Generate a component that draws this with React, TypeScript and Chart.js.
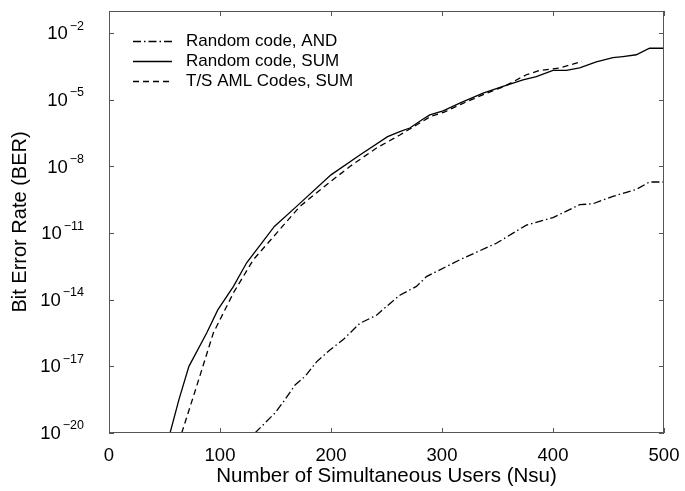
import React, { useEffect, useRef } from 'react';
import { Chart, registerables } from 'chart.js';

Chart.register(...registerables);

// Random code, AND (dash-dot)
const andUsers = [131.5, 149.5, 157, 167.6, 176.6, 187, 199, 211, 226, 241, 250, 262, 277, 286, 316, 349, 376, 400, 424, 436, 454, 475, 487, 500];
const andBer = [1e-20, 7.9e-20, 2.5e-19, 1.45e-18, 3.5e-18, 1.6e-17, 5.5e-17, 1.6e-16, 8.7e-16, 2e-15, 5e-15, 1.6e-14, 4e-14, 1.1e-13, 6.3e-13, 3.5e-12, 2.3e-11, 5e-11, 1.9e-10, 2.1e-10, 4.5e-10, 9.3e-10, 2e-9, 2e-9];

// Random code, SUM (solid)
const sumUsers = [55, 63, 72, 88, 98, 112, 124, 149, 169, 200, 226, 251, 262, 271, 282, 289, 301, 316, 337, 355, 373, 385, 400, 412, 424, 439, 454, 463, 475, 487, 500];
const sumBer = [1e-20, 3.2e-19, 1e-17, 3.2e-16, 3.5e-15, 3.9e-14, 4.6e-13, 2e-11, 1.6e-10, 4.2e-9, 3.3e-8, 2.2e-7, 3.7e-7, 5.4e-7, 1.26e-6, 2.1e-6, 3.2e-6, 7.1e-6, 2e-5, 4e-5, 7.9e-5, 1.1e-4, 2.1e-4, 2.1e-4, 2.75e-4, 5.1e-4, 7.9e-4, 8.9e-4, 1.07e-3, 2.1e-3, 2.1e-3];

// T/S AML Codes, SUM (dashed)
const amlUsers = [65.5, 79, 94, 112, 130, 151, 172, 196, 217, 241, 262, 277, 290, 302, 317, 338, 356, 376, 388, 406, 426];
const amlBer = [1e-20, 1.3e-18, 3.2e-16, 2e-14, 6.3e-13, 1e-11, 1.6e-10, 1.5e-9, 1e-8, 6.8e-8, 2.6e-7, 7.4e-7, 1.8e-6, 2.8e-6, 6.3e-6, 1.8e-5, 4e-5, 1.35e-4, 2.1e-4, 2.7e-4, 5.4e-4];

const seriesLabels = ['Random code, AND', 'Random code, SUM', 'T/S AML Codes, SUM'];
const xTickValues = [0, 100, 200, 300, 400, 500];
const yTickExponents = [-20, -17, -14, -11, -8, -5, -2];
const xTitle = 'Number of Simultaneous Users (Nsu)';
const yTitle = 'Bit Error Rate (BER)';

const FONT = "'Liberation Sans', Arial, Helvetica, sans-serif";
const DASHDOT = [8, 3, 1.5, 3];
const DASHED = [6, 4];

const toPoints = (xs: number[], ys: number[]) => xs.map((x, i) => ({ x, y: ys[i] }));

const decorPlugin = {
  id: 'decor',
  afterDraw(chart: any) {
    const { ctx, chartArea: a, scales } = chart;
    const xs = scales.x;
    const ys = scales.y;
    ctx.save();
    // frame
    ctx.strokeStyle = '#555';
    ctx.lineWidth = 1;
    ctx.setLineDash([]);
    ctx.strokeRect(a.left + 0.5, a.top + 0.5, a.right - a.left - 1, a.bottom - a.top - 1);
    // inward ticks
    const tl = 5;
    ctx.beginPath();
    xTickValues.forEach((v) => {
      const px = Math.round(xs.getPixelForValue(v)) + 0.5;
      ctx.moveTo(px, a.bottom);
      ctx.lineTo(px, a.bottom - tl);
      ctx.moveTo(px, a.top);
      ctx.lineTo(px, a.top + tl);
    });
    yTickExponents.forEach((e) => {
      const py = Math.round(ys.getPixelForValue(Math.pow(10, e))) + 0.5;
      ctx.moveTo(a.left, py);
      ctx.lineTo(a.left + tl, py);
      ctx.moveTo(a.right, py);
      ctx.lineTo(a.right - tl, py);
    });
    ctx.stroke();

    // y tick labels with superscript exponents
    ctx.fillStyle = '#000';
    ctx.textBaseline = 'middle';
    yTickExponents.forEach((e) => {
      const py = ys.getPixelForValue(Math.pow(10, e));
      const expText = '\u2212' + String(Math.abs(e));
      ctx.font = `12.5px ${FONT}`;
      const ew = ctx.measureText(expText).width;
      const right = 84;
      ctx.textAlign = 'left';
      ctx.fillText(expText, right - ew, py - 7);
      ctx.font = `18.5px ${FONT}`;
      ctx.textAlign = 'right';
      ctx.fillText('10', right - ew - 2, py + 1);
    });

    // legend
    const styles = [DASHDOT, [], DASHED];
    const rowY = [41, 61, 81];
    ctx.lineWidth = 1.3;
    ctx.strokeStyle = '#000';
    seriesLabels.forEach((label, i) => {
      ctx.setLineDash(styles[i]);
      ctx.beginPath();
      ctx.moveTo(133, rowY[i] + 0.5);
      ctx.lineTo(172, rowY[i] + 0.5);
      ctx.stroke();
      ctx.setLineDash([]);
      ctx.font = `17px ${FONT}`;
      ctx.textAlign = 'left';
      ctx.textBaseline = 'middle';
      ctx.fillText(label, 186, rowY[i]);
    });
    ctx.restore();
  },
};

export default function App() {
  const canvasRef = useRef<HTMLCanvasElement | null>(null);

  useEffect(() => {
    const canvas = canvasRef.current;
    if (!canvas) return;
    const chart = new Chart(canvas, {
      type: 'scatter',
      data: {
        datasets: [
          {
            label: seriesLabels[0],
            data: toPoints(andUsers, andBer),
            showLine: true,
            borderColor: '#000',
            borderWidth: 1.3,
            borderDash: DASHDOT,
            pointRadius: 0,
            tension: 0,
          },
          {
            label: seriesLabels[1],
            data: toPoints(sumUsers, sumBer),
            showLine: true,
            borderColor: '#000',
            borderWidth: 1.3,
            pointRadius: 0,
            tension: 0,
          },
          {
            label: seriesLabels[2],
            data: toPoints(amlUsers, amlBer),
            showLine: true,
            borderColor: '#000',
            borderWidth: 1.3,
            borderDash: DASHED,
            pointRadius: 0,
            tension: 0,
          },
        ],
      },
      options: {
        responsive: false,
        animation: false,
        layout: { padding: { top: 11, right: 21, left: 0, bottom: 0 } },
        plugins: {
          legend: { display: false },
          tooltip: { enabled: false },
        },
        scales: {
          x: {
            type: 'linear',
            min: 0,
            max: 500,
            grid: { display: false, drawTicks: false },
            border: { display: false },
            ticks: {
              stepSize: 100,
              color: '#000',
              padding: 12,
              font: { family: FONT, size: 18.5 },
              maxRotation: 0,
            },
            title: {
              display: true,
              text: xTitle,
              color: '#000',
              font: { family: FONT, size: 20.5 },
              padding: { top: 0, bottom: 2 },
            },
            afterFit: (s: any) => {
              s.height = 58;
              s.paddingLeft = 0;
              s.paddingRight = 0;
            },
          },
          y: {
            type: 'logarithmic',
            min: 1e-20,
            max: 1e-1,
            grid: { display: false, drawTicks: false },
            border: { display: false },
            ticks: { display: false },
            title: {
              display: true,
              text: yTitle,
              color: '#000',
              font: { family: FONT, size: 20 },
              padding: { top: 8, bottom: 0 },
            },
            afterFit: (s: any) => {
              s.width = 109;
              s.paddingTop = 0;
              s.paddingBottom = 0;
            },
          },
        },
      },
      plugins: [decorPlugin],
    });
    return () => chart.destroy();
  }, []);

  return (
    <div style={{ position: 'absolute', left: 0, top: 0, width: 685, height: 491, background: '#fff' }}>
      <canvas ref={canvasRef} width={685} height={491} style={{ display: 'block' }} />
    </div>
  );
}
